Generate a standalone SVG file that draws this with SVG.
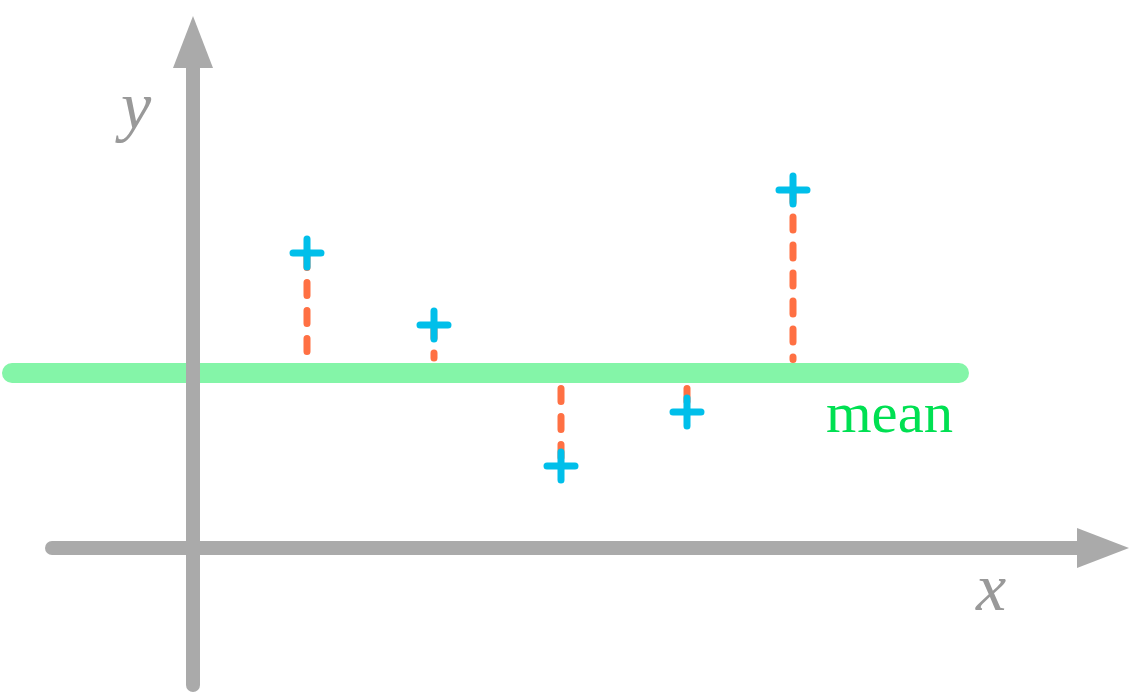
<svg xmlns="http://www.w3.org/2000/svg" width="1145" height="694" viewBox="0 0 1145 694">
<style>
.axis{stroke:#aaaaaa;stroke-width:14;stroke-linecap:round;fill:none}
.mean{stroke:#84f5a8;stroke-width:20;stroke-linecap:round;fill:none}
.dev{stroke:#ff7043;stroke-width:7;stroke-linecap:round;stroke-dasharray:13 15;fill:none}
.pt{stroke:#00bfea;stroke-width:7;stroke-linecap:round;fill:none}
.lbl{font-family:"Liberation Serif",serif;font-style:italic;fill:#999999;font-size:68px}
.mtxt{font-family:"Liberation Serif",serif;fill:#00e052;font-size:56px}
</style>
<defs>
<marker id="arrow" markerUnits="userSpaceOnUse" markerWidth="52" markerHeight="40" refX="0" refY="20" orient="auto" viewBox="0 0 52 40">
<path d="M0,0 L52,20 L0,40 Z" fill="#aaaaaa"/>
</marker>
</defs>
<rect width="1145" height="694" fill="#ffffff"/>
<g id="mean-line">
<line class="mean" x1="12" y1="373" x2="959" y2="373"/>
<text class="mtxt" x="826" y="432" textLength="127" lengthAdjust="spacingAndGlyphs">mean</text>
</g>
<g id="axes">
<line class="axis" x1="52" y1="548" x2="1077" y2="548" marker-end="url(#arrow)"/>
<line class="axis" x1="193" y1="685" x2="193" y2="68" marker-end="url(#arrow)"/>
<text class="lbl" x="976" y="610">x</text>
<text class="lbl" x="121" y="129">y</text>
</g>
<g id="connectors">
<line class="dev" x1="307" y1="254.5" x2="307" y2="352"/>
<line class="dev" x1="434" y1="325" x2="434" y2="358"/>
<line class="dev" x1="561" y1="388.5" x2="561" y2="466"/>
<line class="dev" x1="687" y1="388.5" x2="687" y2="412"/>
<line class="dev" x1="793" y1="189" x2="793" y2="359.5"/>
</g>
<g id="p1"><path class="pt" d="M293,253H321M307,239V267"/></g>
<g id="p2"><path class="pt" d="M420,325H448M434,311V339"/></g>
<g id="p3"><path class="pt" d="M547,466H575M561,452V480"/></g>
<g id="p4"><path class="pt" d="M673,412H701M687,398V426"/></g>
<g id="p5"><path class="pt" d="M779,190H807M793,176V204"/></g>
</svg>
